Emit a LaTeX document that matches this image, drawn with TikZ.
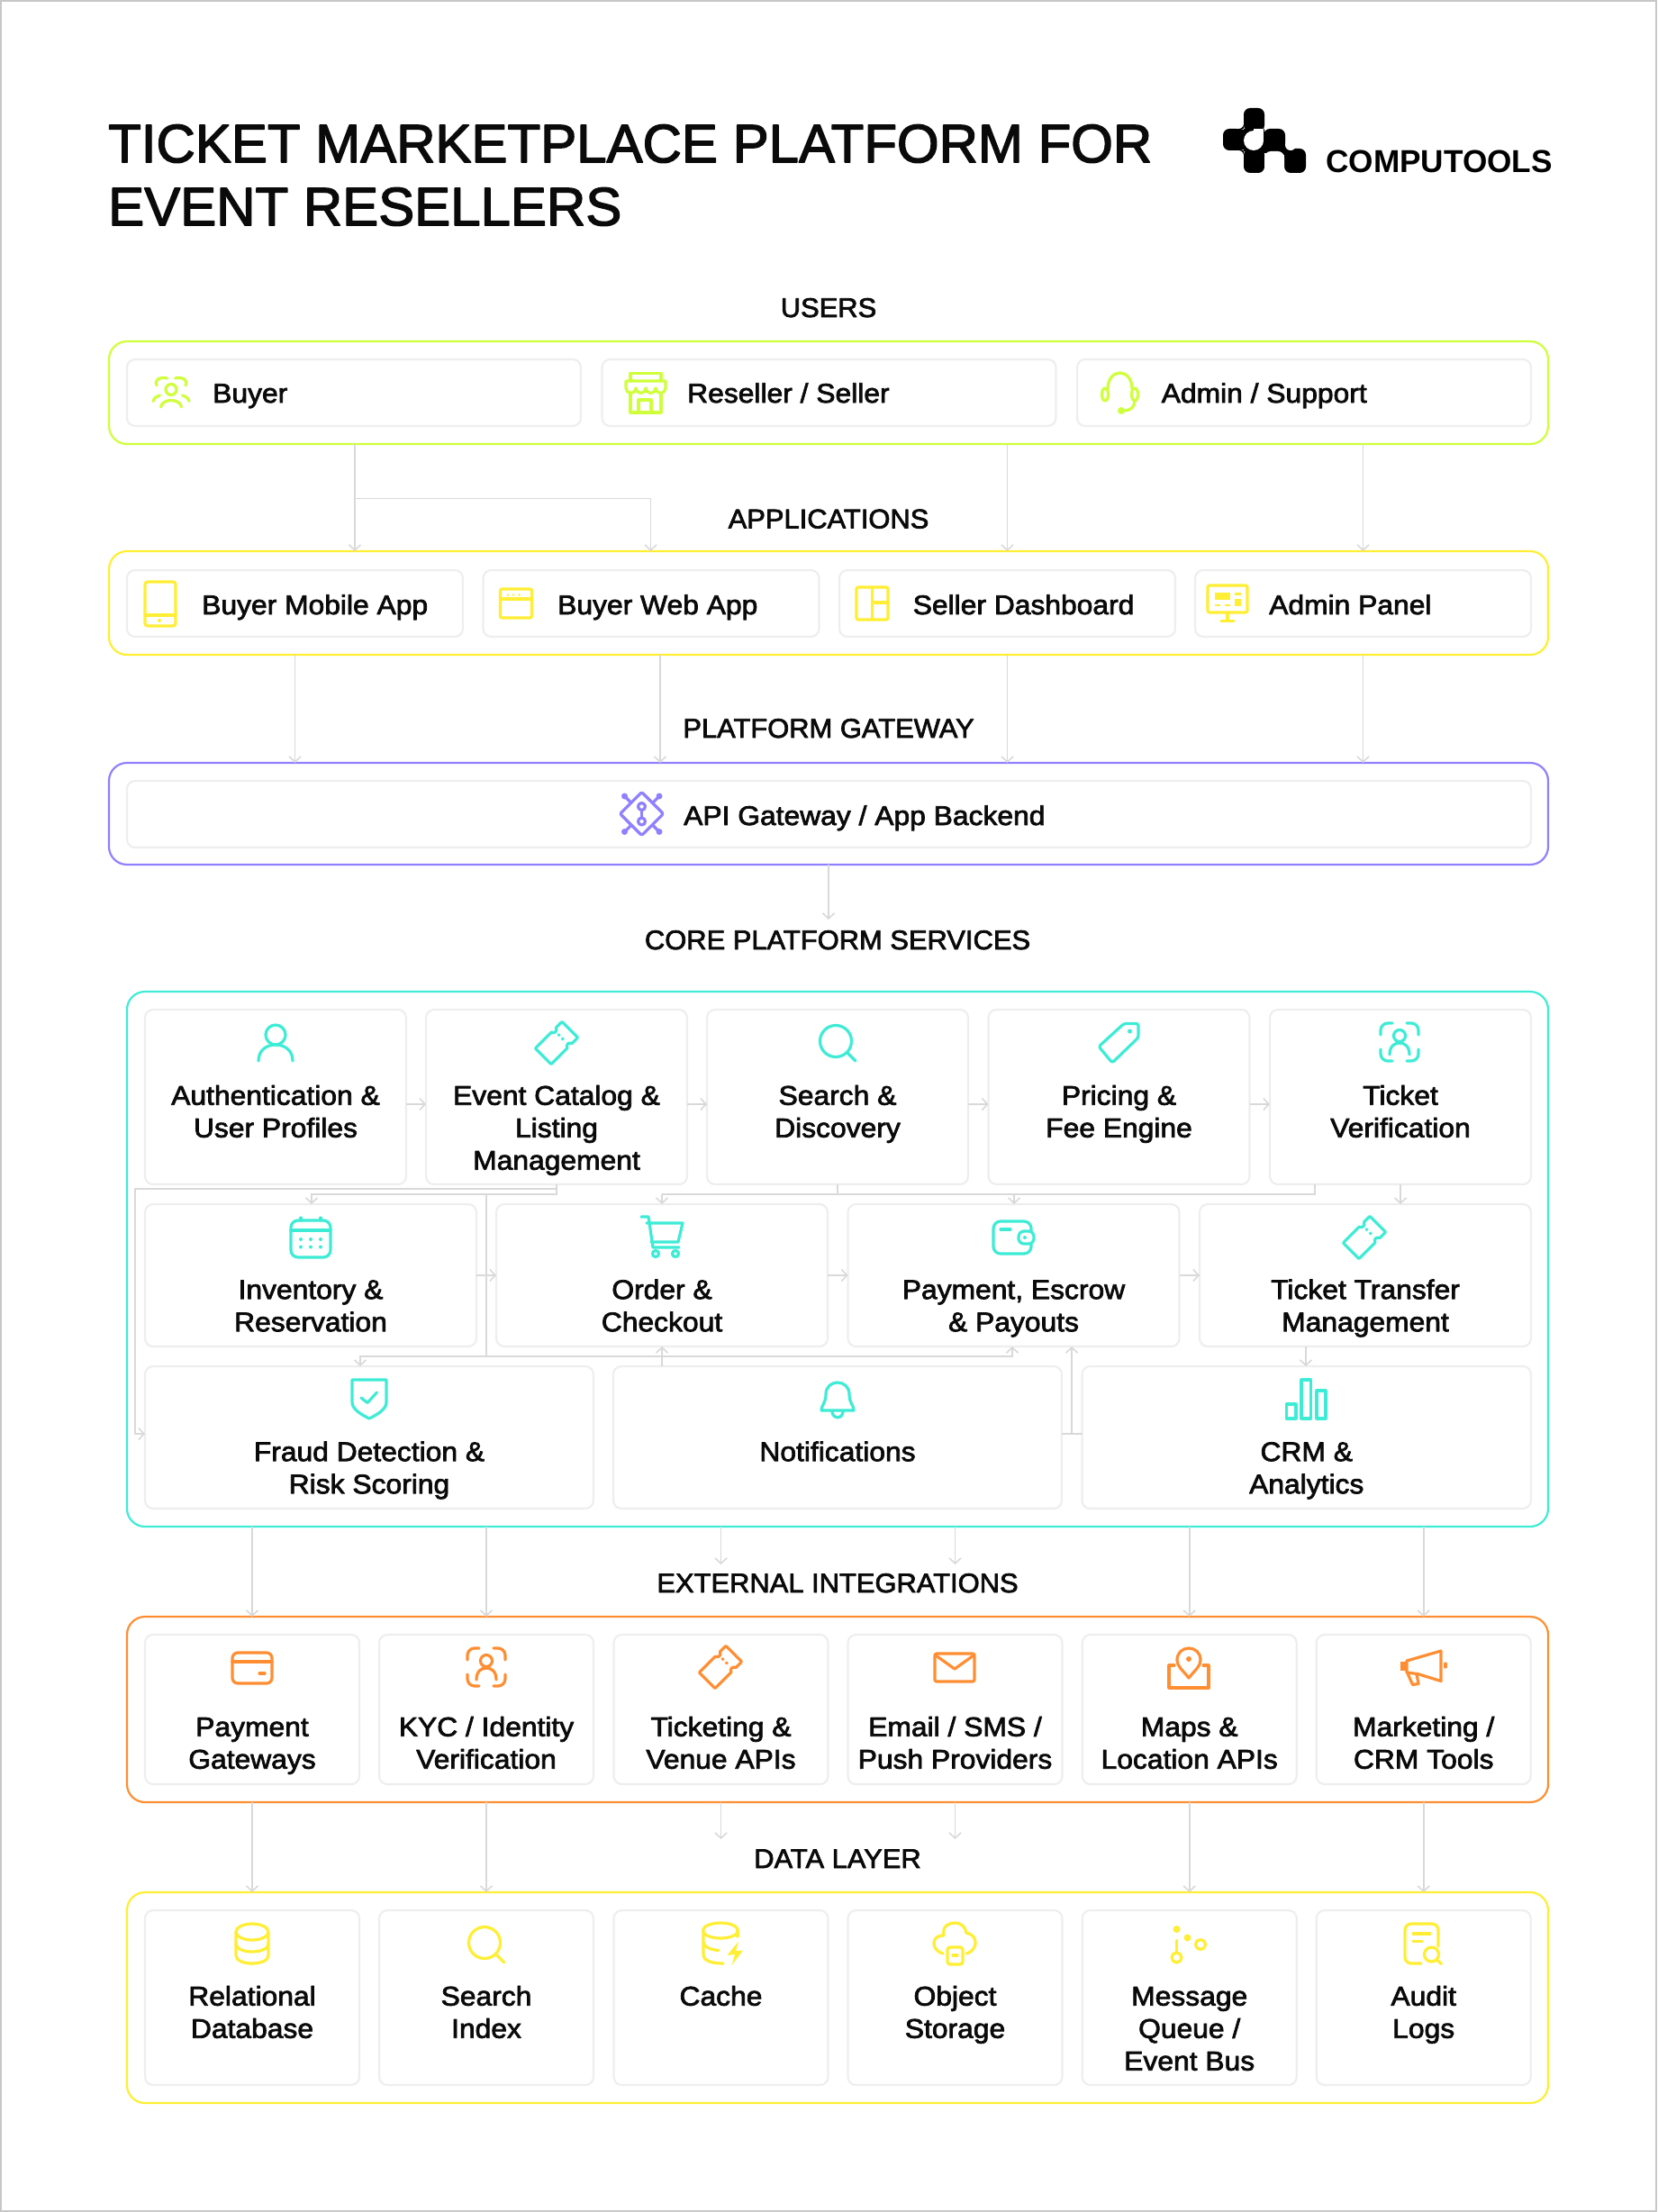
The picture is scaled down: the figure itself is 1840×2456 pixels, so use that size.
\documentclass[tikz,border=0pt]{standalone}
\usepackage{fontspec}
\usetikzlibrary{arrows.meta}
\setmainfont{Liberation Sans}
\newfontfamily\titlef{Liberation Sans}
\newfontfamily\bodyf[FakeStretch=1.06]{Liberation Sans}
\newfontfamily\headf[FakeStretch=1.03]{Liberation Sans}
\definecolor{lime}{HTML}{CFFF3A}
\definecolor{yel}{HTML}{FFEE33}
\definecolor{purp}{HTML}{8F80FF}
\definecolor{turq}{HTML}{3EECD6}
\definecolor{oran}{HTML}{FF8E33}
\definecolor{wire}{HTML}{D9D9D9}
\definecolor{edge}{HTML}{EEEEEE}
\definecolor{ink}{HTML}{0A0A0A}
\tikzset{
 heavy/.style={execute at begin node={\special{pdf:code 1 j 2 Tr #1 w}},execute at end node={\special{pdf:code 0 Tr}}},
 grp/.style={draw=#1,line width=2.2pt,rounded corners=20pt,rectangle,outer sep=0pt,inner sep=0pt},
 card/.style={draw=edge,line width=2.2pt,rounded corners=9pt,rectangle,outer sep=0pt,inner sep=0pt,fill=white},
 lbl/.style={text=ink,inner sep=0pt,align=center,anchor=north,font=\bodyf\fontsize{30}{36}\selectfont,heavy=0.75},
 slbl/.style={text=ink,inner sep=0pt,anchor=base west,font=\bodyf\fontsize{30}{36}\selectfont,heavy=0.75},
 head/.style={text=ink,inner sep=0pt,anchor=base,font=\headf\fontsize{30}{36}\selectfont,heavy=0.75},
 conn/.style={draw=wire,line width=1.8pt,-{Straight Barb[length=6pt,width=13pt,line width=1.6pt]}},
 plain/.style={draw=wire,line width=1.8pt},
 ic/.style={color=#1,line width=3.2pt,line cap=round,line join=round},
}
% name x1 y1 x2 y2 colour
\newcommand\groupbox[6]{\node[grp=#6,minimum width={(#4-#2)*1pt},minimum height={(#5-#3)*1pt}] (#1) at ({(#2+#4)/2},{(#3+#5)/2}) {};}
% name x1 y1 x2 y2
\newcommand\plaincard[5]{\node[card,minimum width={(#4-#2)*1pt},minimum height={(#5-#3)*1pt}] (#1) at ({(#2+#4)/2},{(#3+#5)/2}) {};}
% name x1 y1 x2 y2 baseline text
\newcommand\textcard[7]{\plaincard{#1}{#2}{#3}{#4}{#5}\node[lbl] (#1t) at ({(#2+#4)/2},{#6-25.2}) {\strut #7};}
\newcommand\icoticket[1]{\begin{scope}[shift={#1},rotate=45]
 \draw[rounded corners=1pt] (-21,-12.5) -- (5,-12.5) arc[start angle=180,end angle=360,radius=3pt] -- (21,-12.5) -- (21,12.5) -- (11,12.5) arc[start angle=0,end angle=180,radius=3pt] -- (-21,12.5) -- cycle;
 \draw[line cap=butt,line width=2.8pt,dash pattern=on 3pt off 3pt] (8,-6) -- (8,6);
\end{scope}}
\newcommand\icoscan[1]{\begin{scope}[shift={#1}]
 \draw[rounded corners=8pt] (-21,-8) -- (-21,-21) -- (-8,-21);
 \draw[rounded corners=8pt] (21,-8) -- (21,-21) -- (8,-21);
 \draw[rounded corners=8pt] (-21,8) -- (-21,21) -- (-8,21);
 \draw[rounded corners=8pt] (21,8) -- (21,21) -- (8,21);
 \draw (0,-7) circle[radius=6.5pt];
 \draw (-11,14) .. controls (-11,4) and (-5,1) .. (0,1) .. controls (5,1) and (11,4) .. (11,14);
\end{scope}}
\newcommand\icosearch[1]{\begin{scope}[shift={#1}]
 \draw (-2,-1) circle[radius=17.5pt];
 \draw (11,12) -- (20,21);
\end{scope}}
\begin{document}
\begin{tikzpicture}[x=1pt,y=-1pt]
\useasboundingbox (0,0) rectangle (1840,2456);
\draw[draw=black!22,line width=2pt] (1,1) rectangle (1839,2455);

% title and logo
\node[anchor=north west,inner sep=0pt,text=ink,align=left,font=\titlef\fontsize{60}{70}\selectfont,heavy=1.4] (title) at (120,131) {\strut TICKET MARKETPLACE PLATFORM FOR\\EVENT RESELLERS};
\node[anchor=base west,inner sep=0pt,text=black,font=\bfseries\fontsize{35.2}{40}\selectfont] (logoword) at (1472,192) {COMPUTOOLS};
\fill[black,rounded corners=7pt] (1381,120) rectangle (1404,146);
\fill[black,rounded corners=7pt] (1358,143) rectangle (1384,167);
\fill[black,rounded corners=7pt] (1381,165) rectangle (1404,192);
\fill[black,rounded corners=7pt] (1403,143) rectangle (1427,170);
\fill[black,rounded corners=7pt] (1426,165) rectangle (1450,192);
\fill[black] (1381,143) rectangle (1404,168);
\fill[black] (1403,160) rectangle (1427,170);
\fill[black] (1422,167) rectangle (1432,172);
% concave fillets of the mark
\fill[black] (1375,137) rectangle (1381,143);
\fill[white] (1375,137) circle[radius=6pt];
\fill[black] (1375,167) rectangle (1381,173);
\fill[white] (1375,173) circle[radius=6pt];
\fill[black] (1427,161) rectangle (1433,167);
\fill[white] (1433,161) circle[radius=6pt];
\fill[white] (1392,156) circle[radius=11pt];
\fill[white] (1392,143.5) rectangle (1402.5,156);
\fill[white,rounded corners=7pt] (1404,168) rectangle (1426,198);

% section titles
\node[head] (hUsers) at (920,352) {USERS};
\node[head] (hApps) at (920,586.5) {APPLICATIONS};
\node[head] (hGate) at (920,819) {PLATFORM GATEWAY};
\node[head] (hCore) at (930,1054) {CORE PLATFORM SERVICES};
\node[head] (hExt) at (930,1768) {EXTERNAL INTEGRATIONS};
\node[head] (hData) at (930,2074) {DATA LAYER};

% groups
\groupbox{gUsers}{121}{379}{1719}{493}{lime}
\groupbox{gApps}{121}{612}{1719}{727}{yel}
\groupbox{gGate}{121}{847}{1719}{960}{purp}
\groupbox{gCore}{141}{1101}{1719}{1695}{turq}
\groupbox{gExt}{141}{1795}{1719}{2001}{oran}
\groupbox{gData}{141}{2101}{1719}{2335}{yel}

% users
\plaincard{cBuyer}{141}{399}{645}{473}
\plaincard{cSeller}{668.5}{399}{1172.5}{473}
\plaincard{cAdmin}{1196}{399}{1700}{473}
\node[slbl] (tBuyer) at (236,447) {Buyer};
\node[slbl] (tSeller) at (763,447) {Reseller / Seller};
\node[slbl] (tAdmin) at (1289.5,447) {Admin / Support};
% applications
\plaincard{cMobile}{141}{633}{514}{707}
\plaincard{cWeb}{536.5}{633}{909.5}{707}
\plaincard{cDash}{932}{633}{1305}{707}
\plaincard{cPanel}{1327}{633}{1700}{707}
\node[slbl] (tMobile) at (224,682) {Buyer Mobile App};
\node[slbl] (tWeb) at (619,682) {Buyer Web App};
\node[slbl] (tDash) at (1013.5,682) {Seller Dashboard};
\node[slbl] (tPanel) at (1409,682) {Admin Panel};
% gateway
\plaincard{cApi}{141}{867}{1700}{941}
\node[slbl] (tApi) at (759,916) {API Gateway / App Backend};
% core
\textcard{cAuth}{161}{1121}{451}{1315}{1226.5}{Authentication \&\\User Profiles}
\textcard{cEvent}{473}{1121}{763}{1315}{1226.5}{Event Catalog \&\\Listing\\Management}
\textcard{cSearch}{785}{1121}{1075}{1315}{1226.5}{Search \&\\Discovery}
\textcard{cPrice}{1097.5}{1121}{1387.5}{1315}{1226.5}{Pricing \&\\Fee Engine}
\textcard{cVerify}{1410}{1121}{1700}{1315}{1226.5}{Ticket\\Verification}
\textcard{cInv}{161}{1337}{529}{1495}{1442}{Inventory \&\\Reservation}
\textcard{cOrder}{551}{1337}{919}{1495}{1442}{Order \&\\Checkout}
\textcard{cPay}{941.5}{1337}{1309.5}{1495}{1442}{Payment, Escrow\\\& Payouts}
\textcard{cTrans}{1332}{1337}{1700}{1495}{1442}{Ticket Transfer\\Management}
\textcard{cFraud}{161}{1517}{659}{1675}{1622}{Fraud Detection \&\\Risk Scoring}
\textcard{cNotif}{681}{1517}{1179}{1675}{1622}{Notifications}
\textcard{cCrm}{1201.5}{1517}{1700}{1675}{1622}{CRM \&\\Analytics}
% external
\textcard{eGate}{161}{1815}{399}{1981}{1927.5}{Payment\\Gateways}
\textcard{eKyc}{421}{1815}{659}{1981}{1927.5}{KYC / Identity\\Verification}
\textcard{eVenue}{681.5}{1815}{919.5}{1981}{1927.5}{Ticketing \&\\Venue APIs}
\textcard{eMail}{941.5}{1815}{1179.5}{1981}{1927.5}{Email / SMS /\\Push Providers}
\textcard{eMaps}{1201.7}{1815}{1439.7}{1981}{1927.5}{Maps \&\\Location APIs}
\textcard{eCrm}{1461.7}{1815}{1699.7}{1981}{1927.5}{Marketing /\\CRM Tools}
% data
\textcard{dRel}{161}{2121}{399}{2315}{2226.5}{Relational\\Database}
\textcard{dIdx}{421}{2121}{659}{2315}{2226.5}{Search\\Index}
\textcard{dCache}{681.5}{2121}{919.5}{2315}{2226.5}{Cache}
\textcard{dObj}{941.5}{2121}{1179.5}{2315}{2226.5}{Object\\Storage}
\textcard{dMsg}{1201.7}{2121}{1439.7}{2315}{2226.5}{Message\\Queue /\\Event Bus}
\textcard{dLog}{1461.7}{2121}{1699.7}{2315}{2226.5}{Audit\\Logs}

% connectors: users to applications
\coordinate (jBuyer) at (394,553.5);
\coordinate (jWeb) at (722.5,553.5);
\draw[conn] (jBuyer |- gUsers.south) -- (jBuyer |- gApps.north);
\draw[plain] (jBuyer) -- (jWeb);
\draw[conn] (jWeb) -- (jWeb |- gApps.north);
\draw[conn] (cDash |- gUsers.south) -- (cDash |- gApps.north);
\draw[conn] (cPanel |- gUsers.south) -- (cPanel |- gApps.north);
% applications to gateway
\coordinate (xWeb) at (733,727);
\draw[conn] (cMobile |- gApps.south) -- (cMobile |- gGate.north);
\draw[conn] (xWeb) -- (xWeb |- gGate.north);
\draw[conn] (cDash |- gApps.south) -- (cDash |- gGate.north);
\draw[conn] (cPanel |- gApps.south) -- (cPanel |- gGate.north);
% gateway to core
\coordinate (endGate) at (920,1021);
\draw[conn] (gGate.south) -- (endGate);
% core row arrows
\coordinate (r1) at (0,1226);
\coordinate (r2) at (0,1416);
\draw[conn] (cAuth.east |- r1) -- (cEvent.west |- r1);
\draw[conn] (cEvent.east |- r1) -- (cSearch.west |- r1);
\draw[conn] (cSearch.east |- r1) -- (cPrice.west |- r1);
\draw[conn] (cPrice.east |- r1) -- (cVerify.west |- r1);
\draw[conn] (cInv.east |- r2) -- (cOrder.west |- r2);
\draw[conn] (cOrder.east |- r2) -- (cPay.west |- r2);
\draw[conn] (cPay.east |- r2) -- (cTrans.west |- r2);
% event catalog elbows
\coordinate (yA) at (0,1320);
\coordinate (yB) at (0,1326);
\coordinate (yC) at (0,1506);
\coordinate (xLeft) at (150,1592);
\coordinate (xMid) at (540,0);
\coordinate (xFraud) at (400,0);
\coordinate (xPay) at (1124,0);
\coordinate (xInv) at (346,0);
\coordinate (xVer) at (1460,0);
\coordinate (xPayIn) at (1126,0);
\draw[conn] (cEvent.south) -- (cEvent.south |- yA) -- (xLeft |- yA) -- (xLeft) -- (cFraud.west |- xLeft);
\draw[conn] (cEvent.south) -- (cEvent.south |- yB) -- (xInv |- yB) -- (xInv |- cInv.north);
\draw[plain] (xMid |- yB) -- (xMid |- yC);
\draw[conn] (xMid |- yC) -- (xFraud |- yC) -- (xFraud |- cFraud.north);
\draw[conn] (xMid |- yC) -- (xPay |- yC) -- (xPay |- cPay.south);
\draw[conn] (cNotif.north -| cOrder) -- (cOrder.south);
% search / verification elbows
\draw[plain] (cSearch.south) -- (cSearch.south |- yB);
\draw[plain] (xVer |- cVerify.south) -- (xVer |- yB) -- (cOrder |- yB);
\draw[conn] (cOrder |- yB) -- (cOrder.north);
\draw[conn] (xPayIn |- yB) -- (xPayIn |- cPay.north);
\draw[conn] (cVerify.south) -- (cVerify |- cTrans.north);
\coordinate (xCrm) at (1450,0);
\draw[conn] (xCrm |- cTrans.south) -- (xCrm |- cCrm.north);
% notifications / crm joint
\coordinate (jN) at (1190,1592);
\draw[plain] (cNotif.east |- jN) -- (cCrm.west |- jN);
\draw[conn] (jN) -- (jN |- cPay.south);
% core to external
\coordinate (stopCore) at (0,1737);
\draw[conn] (eGate |- gCore.south) -- (eGate |- gExt.north);
\draw[conn] (eKyc |- gCore.south) -- (eKyc |- gExt.north);
\draw[conn] (eVenue |- gCore.south) -- (eVenue |- stopCore);
\draw[conn] (eMail |- gCore.south) -- (eMail |- stopCore);
\draw[conn] (eMaps |- gCore.south) -- (eMaps |- gExt.north);
\draw[conn] (eCrm |- gCore.south) -- (eCrm |- gExt.north);
% external to data
\coordinate (stopExt) at (0,2042);
\draw[conn] (dRel |- gExt.south) -- (dRel |- gData.north);
\draw[conn] (dIdx |- gExt.south) -- (dIdx |- gData.north);
\draw[conn] (dCache |- gExt.south) -- (dCache |- stopExt);
\draw[conn] (dObj |- gExt.south) -- (dObj |- stopExt);
\draw[conn] (dMsg |- gExt.south) -- (dMsg |- gData.north);
\draw[conn] (dLog |- gExt.south) -- (dLog |- gData.north);

% ---- icons: users
\begin{scope}[ic=lime]
 % buyer
 \draw (190,432.5) circle[radius=6pt];
 \draw (178.5,452) .. controls (180,442) and (200,442) .. (201.5,452);
 \draw (174,428) .. controls (171,421) and (178,418) .. (185.5,420);
 \draw (206,428) .. controls (209,421) and (202,418) .. (194.5,420);
 \draw (170,445.5) .. controls (171,442) and (174,440) .. (177.5,439);
 \draw (210,445.5) .. controls (209,442) and (206,440) .. (202.5,439);
 % store
 \draw (700,423) -- (700,414.5) -- (734,414.5) -- (734,423);
 \draw (695,423) -- (739,423) -- (739,431) arc[start angle=0,end angle=-180,radius=5.5pt] arc[start angle=0,end angle=-180,radius=5.5pt] arc[start angle=0,end angle=-180,radius=5.5pt] arc[start angle=0,end angle=-180,radius=5.5pt] -- cycle;
 \draw (700,437) -- (700,458) -- (734,458) -- (734,437);
 \draw (709,458) -- (709,444) -- (723,444) -- (723,458);
 % headset
 \draw (1230,432) .. controls (1230,408) and (1257,408) .. (1257,432);
 \draw (1227,438) ellipse[x radius=3.5pt,y radius=7pt];
 \draw (1260,438) ellipse[x radius=3.5pt,y radius=7pt];
 \draw (1260,445) .. controls (1260,452) and (1255,456) .. (1248,456);
 \fill (1245,456) circle[radius=4pt];
\end{scope}
% ---- icons: applications
\begin{scope}[ic=yel]
 % phone
 \draw[rounded corners=3pt] (161,646) rectangle (195,695);
 \draw (161,683) -- (195,683);
 \fill (177,689) circle[radius=2pt];
 % browser
 \draw[rounded corners=2pt] (555.5,654) rectangle (590.5,686);
 \draw (555.5,665) -- (590.5,665);
 \fill (564,660.5) circle[radius=1.3pt] (570,660.5) circle[radius=1.3pt] (576.5,660.5) circle[radius=1.3pt];
 % layout
 \draw[rounded corners=2pt] (951,652) rectangle (986,688);
 \draw (968.5,652) -- (968.5,688);
 \draw (968.5,669) -- (986,669);
 % monitor
 \draw[rounded corners=2pt] (1341,650) rectangle (1385,680);
 \draw (1363,680) -- (1363,689);
 \draw (1356,689.5) -- (1370,689.5);
 \fill (1349,658) rectangle (1366,666);
 \fill (1349,670.5) rectangle (1355,673);
 \fill (1360,670.5) rectangle (1366,673);
 \fill (1371,658) rectangle (1377.5,660.5);
 \fill (1371,664.5) rectangle (1377.5,673);
\end{scope}
% ---- icon: gateway
\begin{scope}[ic=purp]
 \draw[rounded corners=2pt] (712.5,879.5) -- (736.5,903.5) -- (712.5,927.5) -- (688.5,903.5) -- cycle;
 \draw (693.5,884) -- (700.5,891) (732,884) -- (725,891) (693.5,923.5) -- (700.5,916.5) (732,923.5) -- (725,916.5);
 \fill (693.5,884) circle[radius=3.5pt] (732,884) circle[radius=3.5pt] (693.5,923.5) circle[radius=3.5pt] (732,923.5) circle[radius=3.5pt];
 \draw (712.5,895.5) circle[radius=4pt] (712.5,912) circle[radius=4pt];
 \draw (712.5,899.5) -- (712.5,908);
\end{scope}
% ---- icons: core
\begin{scope}[ic=turq]
 % person
 \draw (306,1149) circle[radius=11pt];
 \draw (287,1178) .. controls (287,1166) and (296,1160) .. (306,1160) .. controls (316,1160) and (325,1166) .. (325,1178);
 \icoticket{(618,1158)}
 \icosearch{(930,1157)}
 % tag
 \draw[rounded corners=2.5pt] (1248,1136.5) -- (1264,1136.5) -- (1264,1152) -- (1235,1180) -- (1220,1162) -- cycle;
 \fill (1254.5,1145) circle[radius=2.5pt];
 \icoscan{(1554,1157)}
 % calendar
 \draw[rounded corners=8pt] (323,1355) rectangle (367,1396);
 \draw (323,1366) -- (367,1366);
 \draw (334,1352) -- (334,1355) (356,1352) -- (356,1355);
 \fill (334,1376) circle[radius=2pt] (345,1376) circle[radius=2pt] (356,1376) circle[radius=2pt] (334,1384.5) circle[radius=2pt] (345,1384.5) circle[radius=2pt] (356,1384.5) circle[radius=2pt];
 % cart
 \draw (712,1351) -- (720,1351) -- (725,1385) -- (754,1385);
 \draw (718,1358) -- (758,1358) -- (753,1379) -- (723,1379);
 \draw (728,1392) circle[radius=3.5pt] (750,1392) circle[radius=3.5pt];
 % wallet
 \draw[rounded corners=8pt] (1103,1356) rectangle (1145,1392);
 \draw (1111,1365) -- (1122,1365);
 \draw[fill=white,rounded corners=6pt] (1131,1367) rectangle (1148,1381);
 \fill (1138,1374) circle[radius=2pt];
 \icoticket{(1515,1374)}
 % shield
 \draw (391,1532) -- (429,1532) -- (429,1557) .. controls (429,1565) and (418,1571) .. (410,1575) .. controls (402,1571) and (391,1565) .. (391,1557) -- cycle;
 \draw (401,1552) -- (408,1557.5) -- (418.5,1546);
 % bell
 \draw (912,1566) .. controls (912,1560) and (917,1558) .. (917,1548) .. controls (917,1540) and (923,1535) .. (930,1535) .. controls (937,1535) and (943,1540) .. (943,1548) .. controls (943,1558) and (948,1560) .. (948,1566) -- cycle;
 \draw (924,1567) .. controls (924,1576) and (936,1576) .. (936,1567);
 % bars
 \draw (1428.5,1559) rectangle (1439,1575);
 \draw (1445,1532) rectangle (1455.5,1575);
 \draw (1462,1544) rectangle (1472,1575);
\end{scope}
% ---- icons: external
\begin{scope}[ic=oran]
 % card
 \draw[rounded corners=6pt] (258,1835) rectangle (302,1869);
 \draw (258,1845) -- (302,1845);
 \draw (288,1858) -- (294,1858);
 \icoscan{(540,1851)}
 \icoticket{(800,1851)}
 % mail
 \draw[rounded corners=2pt] (1038,1836) rectangle (1082,1867);
 \draw (1039,1838) -- (1060,1853) -- (1081,1838);
 % pin
 \draw (1320,1863) .. controls (1312,1853) and (1307,1850) .. (1307,1843) .. controls (1307,1835) and (1313,1830) .. (1320,1830) .. controls (1327,1830) and (1333,1835) .. (1333,1843) .. controls (1333,1850) and (1328,1853) .. (1320,1863) -- cycle;
 \fill (1320,1842) circle[radius=3pt];
 \draw (1304,1849) -- (1298,1849) -- (1298,1874) -- (1342,1874) -- (1342,1849) -- (1336,1849);
 % megaphone
 \draw (1562,1844) -- (1600,1833) -- (1600,1866.5) -- (1574,1858.5) -- (1562,1857) -- cycle;
 \fill (1554.5,1845) rectangle (1562,1855);
 \draw (1563,1858) -- (1568.5,1870.5) -- (1575,1869.5) -- (1573,1859);
 \draw (1605,1847) -- (1605,1851);
\end{scope}
% ---- icons: data
\begin{scope}[ic=yel]
 % database
 \draw (280,2145) ellipse[x radius=18pt,y radius=9pt];
 \draw (262,2145) -- (262,2171) .. controls (262,2183) and (298,2183) .. (298,2171) -- (298,2145);
 \draw (262,2158) .. controls (262,2170) and (298,2170) .. (298,2158);
 \icosearch{(540,2158)}
 % cache
 \draw (800,2143.5) ellipse[x radius=19.5pt,y radius=8.5pt];
 \draw (781,2144) -- (781,2170) .. controls (781,2177) and (790,2180) .. (803,2180);
 \draw (781,2157) .. controls (782,2162) and (790,2165) .. (798,2165.5);
 \draw (819,2144) -- (819,2150);
 \fill (820,2155.5) -- (807.5,2171) -- (816,2170) -- (812.5,2182) -- (825,2165.5) -- (817,2166) -- cycle;
 % cloud
 \draw (1047,2169) .. controls (1033,2165) and (1034,2148) .. (1048,2149) .. controls (1046,2138) and (1054,2135) .. (1060,2135) .. controls (1068,2135) and (1072,2140) .. (1073,2146) .. controls (1086,2148) and (1087,2165) .. (1073,2169);
 \draw[rounded corners=3pt] (1052,2162) rectangle (1069,2181);
 \draw (1058,2171) -- (1063,2171);
 % message queue
 \fill (1306.5,2142) circle[radius=4pt] (1318.5,2151.5) circle[radius=4pt];
 \draw (1333,2159) circle[radius=5.5pt] (1306.5,2173.5) circle[radius=5.5pt];
 \draw (1306.5,2154.5) -- (1306.5,2168);
 % audit
 \draw[rounded corners=7pt] (1578,2180) -- (1560,2180) -- (1560,2136) -- (1597,2136) -- (1597,2161);
 \draw (1569,2147) -- (1588,2147) (1569,2155.5) -- (1579,2155.5);
 \draw (1589.5,2170) circle[radius=8pt];
 \draw (1595.5,2176) -- (1600.5,2180.5);
\end{scope}
\end{tikzpicture}
\end{document}
